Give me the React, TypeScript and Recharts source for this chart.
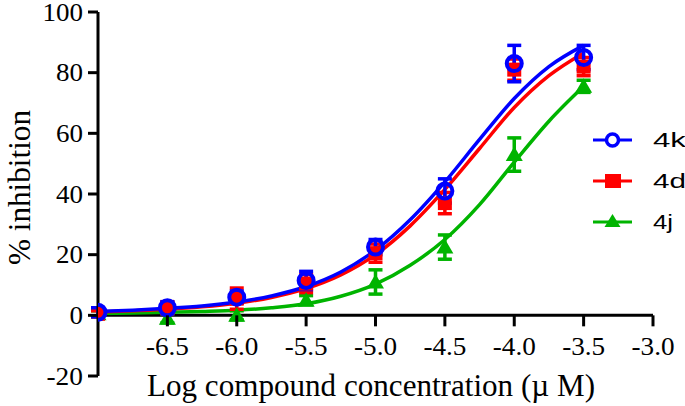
import React from 'react';
import { ComposedChart, Line, Scatter, XAxis, YAxis, ErrorBar, Legend, ReferenceLine } from 'recharts';

// ---- data ----
const logConc = [-7, -6.5, -6, -5.5, -5, -4.5, -4, -3.5];
const mean4k = [1, 2.5, 6, 11.5, 22.5, 41, 83, 85];
const err4k = [1.5, 2, 2, 3, 2.5, 4, 6, 4];
const mean4d = [0.5, 2.5, 5.5, 10.5, 20.5, 37, 81, 82];
const err4d = [1, 2, 3.5, 3, 3, 3.5, 3.5, 3];
const mean4j = [0.5, -1, 0, 5, 11, 22.5, 53, 75.5];
const err4j = [1, 1.5, 1.5, 1.5, 4, 4, 5.5, 2];

const curveX = [-7, -6.75, -6.5, -6.25, -6, -5.75, -5.5, -5.25, -5, -4.75, -4.5, -4.25, -4, -3.75, -3.5];
const fit4k = [1.3, 1.7, 2.3, 3.1, 4.4, 6.4, 9.5, 14.3, 21.5, 31.5, 44, 58, 71.5, 82, 89];
const fit4d = [1.1, 1.5, 2, 2.8, 4, 5.9, 8.8, 13.3, 20, 29.5, 41.5, 55, 68.5, 79, 86.5];
const fit4j = [0.6, 0.8, 1, 1.3, 1.7, 2.5, 3.8, 6.3, 10.3, 16.5, 25, 36.5, 50.5, 64, 75.5];

const xTicks = [-6.5, -6, -5.5, -5, -4.5, -4, -3.5, -3];
const yTicks = [-20, 0, 20, 40, 60, 80, 100];

const seriesNames = ['4k', '4d', '4j'];
const seriesColors = ['#0000ff', '#ff0000', '#00b400'];

// ---- layout ----
const W = 685;
const H = 406;
const MARGIN = { top: 12, right: 32, bottom: 0, left: 0 };
const Y_AXIS_W = 98;
const X_AXIS_H = 30;
const Y_MIN = -20;
const Y_MAX = 100;
const PLOT_H = H - MARGIN.top - MARGIN.bottom - X_AXIS_H;
const Y_ZERO_PX = MARGIN.top + (PLOT_H * (Y_MAX - 0)) / (Y_MAX - Y_MIN);
const Y_AXIS_X = MARGIN.left + Y_AXIS_W;

const SERIF = '"Liberation Serif", "Times New Roman", serif';
const SANS = '"Liberation Sans", Arial, sans-serif';
const TICK_FS = 25;

// rendered width of a tick label (wide serif digits as in the figure)
const labelWidth = (s: string) =>
  s.split('').reduce((w, ch) => w + (ch === '-' ? 9.5 : ch === '.' ? 6.5 : 13.5), 0);

const pts = (m: number[], e: number[]) => logConc.map((x, i) => ({ x, y: m[i], err: e[i] }));
const curve = (v: number[]) => curveX.map((x, i) => ({ x, y: v[i] }));

const data4k = pts(mean4k, err4k);
const data4d = pts(mean4d, err4d);
const data4j = pts(mean4j, err4j);

const CircleShape = (p: any) => (
  <circle cx={p.cx} cy={p.cy} r={7.5} fill="none" stroke={seriesColors[0]} strokeWidth={4} />
);
const SquareShape = (p: any) => (
  <rect x={p.cx - 7} y={p.cy - 7} width={14} height={14} fill={seriesColors[1]} />
);
const TriangleShape = (p: any) => (
  <polygon
    points={`${p.cx},${p.cy - 8} ${p.cx + 8.5},${p.cy + 6.5} ${p.cx - 8.5},${p.cy + 6.5}`}
    fill={seriesColors[2]}
  />
);

const renderXTick = (p: any) => {
  const s = Number(p.payload.value).toFixed(1);
  const w = labelWidth(s);
  return (
    <g>
      <line x1={p.x} x2={p.x} y1={Y_ZERO_PX} y2={Y_ZERO_PX + 11} stroke="#000" strokeWidth={3} />
      <text
        x={p.x - w / 2}
        y={355}
        textLength={w}
        lengthAdjust="spacingAndGlyphs"
        fontSize={TICK_FS}
        fontFamily={SERIF}
        fill="#000"
      >
        {s}
      </text>
    </g>
  );
};

const renderYTick = (p: any) => {
  const s = String(p.payload.value);
  const w = labelWidth(s);
  const right = Y_AXIS_X - 15;
  return (
    <g>
      <line x1={Y_AXIS_X - 10} x2={Y_AXIS_X} y1={p.y} y2={p.y} stroke="#000" strokeWidth={3} />
      <text
        x={right - w}
        y={p.y + 8.5}
        textLength={w}
        lengthAdjust="spacingAndGlyphs"
        fontSize={TICK_FS}
        fontFamily={SERIF}
        fill="#000"
      >
        {s}
      </text>
    </g>
  );
};

const legendWidths = [33, 33, 20];

const LegendContent = () => {
  const rows = [20, 61, 102];
  return (
    <svg width={100} height={125} style={{ overflow: 'visible' }}>
      {seriesNames.map((n, i) => {
        const cy = rows[i];
        const c = seriesColors[i];
        return (
          <g key={n}>
            <line x1={8} x2={47} y1={cy} y2={cy} stroke={c} strokeWidth={3} />
            {i === 0 && <circle cx={27.5} cy={cy} r={6} fill="#fff" stroke={c} strokeWidth={3.5} />}
            {i === 1 && <rect x={20} y={cy - 7} width={16} height={14} fill={c} />}
            {i === 2 && (
              <polygon points={`${27.5},${cy - 8} ${35.5},${cy + 5} ${19.5},${cy + 5}`} fill={c} />
            )}
            <text
              x={68}
              y={cy + 7}
              textLength={legendWidths[i]}
              lengthAdjust="spacingAndGlyphs"
              fontSize={21}
              fontFamily={SANS}
              fill="#000"
            >
              {n}
            </text>
          </g>
        );
      })}
    </svg>
  );
};

export default function App() {
  return (
    <div style={{ position: 'absolute', left: 0, top: 0, width: W, height: H, background: '#fff' }}>
      <ComposedChart width={W} height={H} margin={MARGIN}>
        <XAxis
          type="number"
          dataKey="x"
          domain={[-7, -3]}
          ticks={xTicks}
          interval={0}
          allowDataOverflow
          height={X_AXIS_H}
          axisLine={false}
          tickLine={false}
          tick={renderXTick}
          label={{
            content: () => (
              <text
                x={147}
                y={396}
                textLength={448}
                lengthAdjust="spacingAndGlyphs"
                fontSize={31}
                fontFamily={SERIF}
                fill="#000"
              >
                Log compound concentration (µ M)
              </text>
            ),
          }}
        />
        <YAxis
          type="number"
          domain={[Y_MIN, Y_MAX]}
          ticks={yTicks}
          interval={0}
          allowDataOverflow
          width={Y_AXIS_W}
          axisLine={{ stroke: '#000', strokeWidth: 3 }}
          tickLine={false}
          tick={renderYTick}
          label={{
            content: () => {
              const cx = 30;
              const cy = 188;
              return (
                <text
                  x={cx - 77}
                  y={cy}
                  transform={`rotate(-90 ${cx} ${cy})`}
                  textLength={155}
                  lengthAdjust="spacingAndGlyphs"
                  fontSize={31}
                  fontFamily={SERIF}
                  fill="#000"
                >
                  % inhibition
                </text>
              );
            },
          }}
        />
        <ReferenceLine y={0} stroke="#000" strokeWidth={3} ifOverflow="extendDomain" />
        <Line data={curve(fit4j)} dataKey="y" type="monotone" stroke={seriesColors[2]} strokeWidth={3.5} dot={false} isAnimationActive={false} legendType="none" />
        <Line data={curve(fit4d)} dataKey="y" type="monotone" stroke={seriesColors[1]} strokeWidth={3.5} dot={false} isAnimationActive={false} legendType="none" />
        <Line data={curve(fit4k)} dataKey="y" type="monotone" stroke={seriesColors[0]} strokeWidth={3.5} dot={false} isAnimationActive={false} legendType="none" />
        <Scatter name="4j" data={data4j} dataKey="y" shape={TriangleShape} isAnimationActive={false}>
          <ErrorBar dataKey="err" direction="y" width={7} stroke={seriesColors[2]} strokeWidth={3.5} isAnimationActive={false} />
        </Scatter>
        <Scatter name="4d" data={data4d} dataKey="y" shape={SquareShape} isAnimationActive={false}>
          <ErrorBar dataKey="err" direction="y" width={7} stroke={seriesColors[1]} strokeWidth={3.5} isAnimationActive={false} />
        </Scatter>
        <Scatter name="4k" data={data4k} dataKey="y" shape={CircleShape} isAnimationActive={false}>
          <ErrorBar dataKey="err" direction="y" width={7} stroke={seriesColors[0]} strokeWidth={3.5} isAnimationActive={false} />
        </Scatter>
        <Legend
          layout="vertical"
          align="center"
          verticalAlign="middle"
          content={<LegendContent />}
          wrapperStyle={{ left: 585, top: 120, width: 100, height: 125 }}
        />
      </ComposedChart>
    </div>
  );
}
